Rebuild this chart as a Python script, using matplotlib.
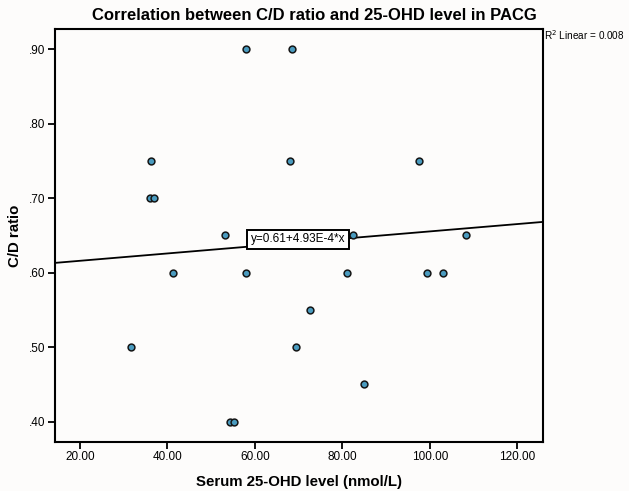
import numpy as np
import matplotlib
matplotlib.use("Agg")
import matplotlib.pyplot as plt
from matplotlib.ticker import FuncFormatter

# Serum 25-OHD level (nmol/L) and C/D ratio
ohd = [58.0, 68.5, 36.2, 68.0, 97.6, 36.0, 37.0, 53.1, 82.5, 108.3,
       41.3, 58.0, 81.1, 99.3, 103.1, 72.6, 31.7, 69.4, 85.0, 54.4, 55.2]
cd_ratio = [0.90, 0.90, 0.75, 0.75, 0.75, 0.70, 0.70, 0.65, 0.65, 0.65,
            0.60, 0.60, 0.60, 0.60, 0.60, 0.55, 0.50, 0.50, 0.45, 0.40, 0.40]

# fit line y = a + b*x
intercept = 0.606
slope = 4.93e-4
fit_label = "y=0.61+4.93E-4*x"
r2_label = "R$^2$ Linear = 0.008"

x_ticks = [20, 40, 60, 80, 100, 120]
y_ticks = [0.40, 0.50, 0.60, 0.70, 0.80, 0.90]

plt.rcParams["font.family"] = ["Liberation Sans", "DejaVu Sans"]

fig = plt.figure(figsize=(6.29, 4.91), dpi=100)
fig.patch.set_facecolor("#fdfcfb")
ax = fig.add_axes([0.0874, 0.1004, 0.7759, 0.8405])
ax.set_facecolor("#fdfcfb")

xmin, xmax = 14.28, 125.9
ax.set_xlim(xmin, xmax)
ax.set_ylim(0.373, 0.927)

# regression line
xs = np.array([xmin, xmax])
ax.plot(xs, intercept + slope * xs, color="black", linewidth=1.3, zorder=2)

# points
ax.scatter(ohd, cd_ratio, s=24, facecolor="#4a9bbf", edgecolor="#151515",
           linewidth=1.1, zorder=3)

# equation box
ax.text(69.9, 0.645, fit_label, fontsize=8.5, ha="center", va="center", zorder=4,
        bbox=dict(boxstyle="square,pad=0.3", facecolor="white",
                  edgecolor="black", linewidth=1.4))

ax.set_xticks(x_ticks)
ax.set_yticks(y_ticks)
ax.xaxis.set_major_formatter(FuncFormatter(lambda v, _: f"{v:.2f}"))
ax.yaxis.set_major_formatter(FuncFormatter(lambda v, _: f"{v:.2f}".lstrip("0")))
ax.tick_params(axis="both", direction="out", length=5, width=1.3,
               labelsize=8.5, pad=2, colors="black")

for s in ax.spines.values():
    s.set_linewidth(1.5)
    s.set_color("black")

ax.set_xlabel("Serum 25-OHD level (nmol/L)", fontsize=10.8, fontweight="bold",
              labelpad=8)
ax.set_ylabel("C/D ratio", fontsize=10.8, fontweight="bold", labelpad=5)

fig.text(0.5, 1 - 16 / 491, "Correlation between C/D ratio and 25-OHD level in PACG",
         fontsize=12, fontweight="bold", ha="center", va="center")
fig.text(544 / 629, 1 - 35 / 491, r2_label, fontsize=7.2, ha="left",
         va="center")

fig.savefig("out.png", dpi=100, facecolor=fig.get_facecolor())
